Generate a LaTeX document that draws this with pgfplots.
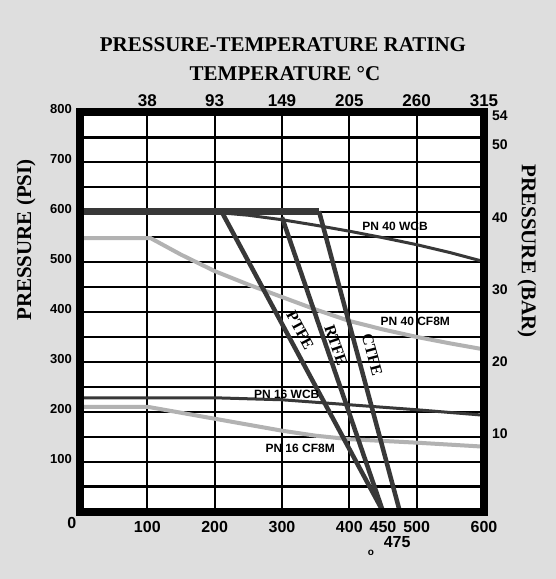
\documentclass[border=0pt]{standalone}
\usepackage{pgfplots}
\pgfplotsset{compat=1.18}
\usepackage{fontspec}
\setmainfont{Liberation Serif}
\setsansfont{Liberation Sans}
\definecolor{darkline}{HTML}{383838}
\definecolor{grayline}{HTML}{B2B2B2}
\definecolor{bg}{HTML}{DEDEDE}
\newcommand{\tickfont}[1]{\sffamily\bfseries\fontsize{#1}{#1}\selectfont}
\newcommand{\headfont}{\bfseries\fontsize{21}{21}\selectfont}
\begin{document}
\begin{tikzpicture}[x=1pt,y=1pt]
\fill[bg] (0,0) rectangle (556,579);
\path[use as bounding box] (0,0) rectangle (556,579);
% titles
\node[font=\headfont] at (283,534) {PRESSURE-TEMPERATURE RATING};
\node[font=\headfont] at (285,505) {TEMPERATURE °C};
\node[font=\headfont, rotate=90] at (26,339) {PRESSURE (PSI)};
\node[font=\headfont, rotate=-90] at (527,328) {PRESSURE (BAR)};
\begin{axis}[
  at={(80pt,67.5pt)}, anchor=south west,
  width=404pt, height=399pt, scale only axis,
  xmin=0, xmax=600, ymin=0, ymax=800,
  clip=false,
  axis background/.style={fill=white},
  axis line style={draw=none},
  xtick={100,200,300,400,500,600},
  xticklabels={100,200,300,400,500,600},
  extra x ticks={450}, extra x tick labels={450},
  extra x tick style={grid=none},
  ytick={100,200,...,800},
  yticklabels={100,200,300,400,500,600,700,800},
  minor ytick={50,150,...,750},
  xmajorgrids, ymajorgrids, yminorgrids,
  major grid style={black, line width=2.2pt},
  minor grid style={black, line width=2.2pt},
  major tick length=0pt, minor tick length=0pt,
  xticklabel style={font=\tickfont{16}, anchor=center, yshift=-15.5pt, inner sep=0pt},
  yticklabel style={font=\tickfont{13}, anchor=east, xshift=-8pt, yshift=3pt, inner sep=0pt},
]
% gray CF8M lines
\addplot[grayline, line width=4pt] coordinates {(0,548) (105,548) (150,515) (200,482) (250,455) (300,430) (350,405) (400,382) (450,365) (500,350) (550,337) (600,325)};
\addplot[grayline, line width=4pt] coordinates {(0,210) (100,210) (150,198) (200,186) (250,174) (300,162) (350,152) (400,145) (500,138) (600,130)};
% WCB lines
\addplot[darkline, line width=3pt] coordinates {(0,602) (200,600) (250,594) (300,585) (350,574) (400,562) (450,549) (500,535) (550,519) (600,501)};
\addplot[darkline, line width=3pt] coordinates {(0,228) (200,228) (300,224) (400,214) (500,204) (600,193)};
% seat lines
\addplot[darkline, line width=4.5pt] coordinates {(210,602) (450,0)};
\addplot[darkline, line width=4.5pt] coordinates {(300,590) (450,0)};
\addplot[darkline, line width=4.5pt] coordinates {(355,602) (475,0)};
\addplot[darkline, line width=7pt] coordinates {(0,602) (355,602)};
% frame
\draw[line width=8pt, black] (rel axis cs:0,0) rectangle (rel axis cs:1,1);
% labels
\node[font=\tickfont{12}] at (axis cs:468,571) {PN 40 WCB};
\node[font=\tickfont{12}] at (axis cs:498,381) {PN 40 CF8M};
\node[font=\tickfont{12}] at (axis cs:307,234) {PN 16 WCB};
\node[font=\tickfont{12}] at (axis cs:327,127) {PN 16 CF8M};
\node[font=\bfseries\fontsize{16}{16}\selectfont, rotate=-62] at (axis cs:327,363) {PTFE};
\node[font=\bfseries\fontsize{16}{16}\selectfont, rotate=-71] at (axis cs:380,333) {RTFE};
\node[font=\bfseries\fontsize{16}{16}\selectfont, rotate=-75] at (axis cs:434,315) {CTFE};
\node[font=\tickfont{16}] at (axis cs:-12,-23) {0};
\node[font=\tickfont{16}] at (axis cs:471,-61) {475};
\node[font=\tickfont{10}] at (axis cs:432,-83) {o};
\end{axis}
\begin{axis}[
  at={(80pt,67.5pt)}, anchor=south west,
  width=404pt, height=399pt, scale only axis,
  xmin=0, xmax=600, ymin=0, ymax=55.172,
  axis x line*=top, axis y line*=right,
  axis line style={draw=none},
  xtick={100,200,300,400,500,600},
  xticklabels={38,93,149,205,260,315},
  ytick={10,20,30,40,50,54},
  yticklabels={10,20,30,40,50,54},
  major tick length=0pt,
  xticklabel style={font=\tickfont{17}, anchor=center, yshift=12pt, inner sep=0pt},
  yticklabel style={font=\tickfont{14}, anchor=west, xshift=8pt, yshift=5pt, inner sep=0pt},
]
\addplot[draw=none] coordinates {(0,0)};
\end{axis}
\end{tikzpicture}
\end{document}
